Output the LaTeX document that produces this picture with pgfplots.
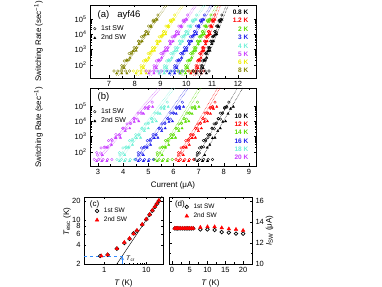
\documentclass[border=0pt]{standalone}
\usepackage{fontspec}
\setmainfont{Liberation Sans}
\setsansfont{Liberation Sans}
\usepackage{pgfplots}
\usepackage{pgfplotstable}
\pgfplotsset{compat=1.18}

\definecolor{cgreen}{RGB}{90,220,0}
\definecolor{cblue}{RGB}{30,30,235}
\definecolor{ccyan}{RGB}{110,240,215}
\definecolor{cpurple}{RGB}{200,60,255}
\definecolor{cyellow}{RGB}{238,238,0}
\definecolor{colive}{RGB}{128,128,0}
\definecolor{cred}{RGB}{255,0,0}
\definecolor{dblue}{RGB}{50,140,255}

\pgfplotsset{
  every axis/.append style={
    scale only axis,
    tick label style={font=\fontsize{7.5}{8}\selectfont},
    label style={font=\fontsize{8}{9}\selectfont},
    legend style={draw=none, fill=none, font=\fontsize{7}{8}\selectfont, row sep=-1pt, inner sep=0pt,
      /tikz/every odd column/.append style={column sep=3pt}},
    legend cell align=left,
    /pgf/number format/assume math mode=true,
    major tick length=2.5pt, minor tick length=1.5pt,
    tick style={line width=0.4pt, black},
    axis line style={line width=0.5pt},
  },
  ca/.style={only marks, mark=o, mark size=1.3pt, mark options={line width=0.35pt}},
  ta/.style={only marks, mark=triangle*, mark size=1.3pt},
  da/.style={ca, forget plot},
  db/.style={ta, forget plot},
  fl/.style={densely dotted, line width=0.5pt, forget plot},
  cc/.style={only marks, mark=o, mark size=1.8pt, mark options={line width=0.7pt}, black},
  tc/.style={only marks, mark=triangle*, mark size=2.1pt, cred},
}

% panel (a): 1st SW
\pgfplotstableread{
R      T8    T6    T5     T4     T3     T2     T12    T08
89     7.50  8.25  8.75   9.15   9.55   9.97   10.38  10.58
85     7.59  8.34  8.84   9.23   9.63   10.04  10.43  10.63
200    7.69  8.42  8.92   9.32   9.70   10.10  10.48  10.69
214    7.78  8.51  9.01   9.40   9.78   10.17  10.52  10.74
646    7.87  8.60  9.10   9.48   9.86   10.23  10.57  10.79
851    7.97  8.68  9.18   9.57   9.93   10.30  10.62  10.85
1290   8.06  8.77  9.27   9.65   10.01  10.36  10.67  10.90
3470   8.15  8.86  9.36   9.73   10.09  10.43  10.72  10.95
3240   8.25  8.94  9.44   9.82   10.16  10.49  10.76  11.01
7760   8.34  9.03  9.53   9.90   10.24  10.56  10.81  11.06
14800  8.43  9.12  9.62   9.98   10.32  10.62  10.86  11.11
13800  8.53  9.20  9.70   10.07  10.39  10.69  10.91  11.17
33100  8.62  9.29  9.79   10.15  10.47  10.75  10.96  11.22
70800  8.71  9.38  9.88   10.23  10.55  10.82  11.00  11.27
83200  8.81  9.46  9.96   10.32  10.62  10.88  11.05  11.33
178000 8.90  9.55  10.05  10.40  10.70  10.95  11.10  11.38
62     7.51  8.26  8.76   9.15   9.55   9.98   10.38  10.58
182    7.60  8.34  8.84   9.24   9.63   10.04  10.43  10.63
209    7.70  8.43  8.93   9.32   9.70   10.11  10.47  10.69
550    7.79  8.52  9.02   9.40   9.78   10.17  10.52  10.74
525    7.88  8.60  9.10   9.49   9.86   10.24  10.57  10.79
1350   7.98  8.69  9.19   9.57   9.93   10.30  10.62  10.85
1320   8.07  8.78  9.28   9.65   10.01  10.37  10.67  10.90
3550   8.16  8.86  9.36   9.74   10.09  10.43  10.71  10.95
6760   8.26  8.95  9.45   9.82   10.16  10.50  10.76  11.01
7080   8.35  9.04  9.54   9.90   10.24  10.56  10.81  11.06
15100  8.44  9.12  9.62   9.99   10.32  10.63  10.86  11.11
33900  8.54  9.21  9.71   10.07  10.39  10.69  10.91  11.17
35500  8.63  9.30  9.80   10.15  10.47  10.76  10.95  11.22
81300  8.72  9.38  9.88   10.24  10.55  10.82  11.00  11.27
93300  8.82  9.47  9.97   10.32  10.62  10.89  11.05  11.33
40     7.20  7.95  8.45   8.85   9.25   9.67   10.08  10.28
40     7.35  8.10  8.60   9.00   9.40   9.82   10.23  10.43
40     7.50  8.25  8.75   9.15   9.55   9.97   10.38  10.58
40     7.65  8.40  8.90   9.30   9.70   10.12  10.53  10.73
40     7.80  8.55  9.05   9.45   9.85   10.27  10.68  10.88
}\circA
% panel (a): 2nd SW
\pgfplotstableread{
R      T8    T6    T5     T4     T3     T2     T12    T08
63     7.59  8.34  8.84   9.24   9.63   10.05  10.45  10.65
191    7.71  8.45  8.95   9.34   9.73   10.13  10.51  10.72
288    7.82  8.55  9.05   9.44   9.82   10.21  10.57  10.79
794    7.94  8.66  9.16   9.55   9.92   10.29  10.63  10.85
851    8.06  8.77  9.27   9.65   10.02  10.37  10.69  10.92
2290   8.17  8.88  9.38   9.76   10.11  10.46  10.75  10.99
3470   8.29  8.99  9.49   9.86   10.21  10.54  10.81  11.05
9330   8.40  9.09  9.59   9.96   10.30  10.62  10.87  11.12
10000  8.52  9.20  9.70   10.07  10.40  10.70  10.93  11.18
30900  8.64  9.31  9.81   10.17  10.49  10.78  10.99  11.25
66100  8.75  9.42  9.92   10.27  10.59  10.86  11.05  11.32
89100  8.87  9.52  10.02  10.38  10.68  10.94  11.11  11.38
28     7.30  8.05  8.55   8.95   9.35   9.77   10.18  10.38
28     7.50  8.25  8.75   9.15   9.55   9.97   10.38  10.58
28     7.70  8.45  8.95   9.35   9.75   10.17  10.58  10.78
}\triA
% panel (b): 1st SW
\pgfplotstableread{
R      T20   T18   T16   T14   T12   T10
89     2.95  3.85  4.60  5.35  6.20  6.95
85     3.10  3.98  4.72  5.46  6.30  7.03
200    3.24  4.10  4.83  5.56  6.39  7.12
214    3.39  4.23  4.95  5.67  6.49  7.20
646    3.54  4.36  5.07  5.78  6.59  7.28
851    3.68  4.48  5.18  5.88  6.68  7.37
1290   3.83  4.61  5.30  5.99  6.78  7.45
3470   3.98  4.74  5.42  6.10  6.88  7.53
3240   4.12  4.86  5.53  6.20  6.97  7.62
7760   4.27  4.99  5.65  6.31  7.07  7.70
14800  4.42  5.12  5.77  6.42  7.17  7.78
13800  4.56  5.24  5.88  6.52  7.26  7.87
33100  4.71  5.37  6.00  6.63  7.36  7.95
70800  4.86  5.50  6.12  6.74  7.46  8.03
83200  5.00  5.62  6.23  6.84  7.55  8.12
178000 5.15  5.75  6.35  6.95  7.65  8.20
62     2.98  3.87  4.61  5.36  6.20  6.94
182    3.12  3.99  4.73  5.46  6.30  7.03
209    3.27  4.12  4.84  5.57  6.39  7.11
550    3.42  4.25  4.96  5.68  6.49  7.19
525    3.56  4.37  5.08  5.78  6.59  7.28
1350   3.71  4.50  5.19  5.89  6.68  7.36
1320   3.86  4.63  5.31  6.00  6.78  7.44
3550   4.00  4.75  5.43  6.10  6.88  7.53
6760   4.15  4.88  5.54  6.21  6.97  7.61
7080   4.30  5.01  5.66  6.32  7.07  7.69
15100  4.44  5.13  5.78  6.42  7.17  7.78
33900  4.59  5.26  5.89  6.53  7.26  7.86
35500  4.74  5.39  6.01  6.64  7.36  7.94
81300  4.88  5.51  6.13  6.74  7.46  8.03
93300  5.03  5.64  6.24  6.85  7.55  8.11
32     2.85  3.75  4.50  5.25  6.10  6.85
32     3.03  3.93  4.68  5.43  6.28  7.03
32     3.20  4.10  4.85  5.60  6.45  7.20
32     3.38  4.28  5.03  5.78  6.63  7.38
32     3.55  4.45  5.20  5.95  6.80  7.55
}\circB
% panel (b): 2nd SW
\pgfplotstableread{
R      T20   T18   T16   T14   T12   T10
63     3.17  4.06  4.80  5.55  6.39  7.24
191    3.35  4.21  4.95  5.68  6.51  7.34
288    3.53  4.37  5.09  5.81  6.63  7.44
794    3.71  4.53  5.24  5.95  6.75  7.55
851    3.89  4.69  5.38  6.08  6.87  7.65
2290   4.08  4.84  5.53  6.21  6.99  7.76
3470   4.26  5.00  5.67  6.34  7.11  7.86
9330   4.44  5.16  5.82  6.48  7.23  7.96
10000  4.62  5.32  5.96  6.61  7.35  8.07
30900  4.81  5.47  6.11  6.74  7.47  8.17
66100  4.99  5.63  6.25  6.87  7.59  8.27
89100  5.17  5.79  6.40  7.01  7.72  8.38
25     2.95  3.85  4.60  5.35  6.20  6.95
25     3.15  4.05  4.80  5.55  6.40  7.15
25     3.35  4.25  5.00  5.75  6.60  7.35
}\triB

\begin{document}
\begin{tikzpicture}[font=\fontsize{7}{8}\selectfont]
\useasboundingbox (0,0) rectangle (382pt,286pt);

% ---------------- (a)
\begin{axis}[
  at={(90pt,208pt)}, anchor=south west, width=166pt, height=73pt,
  xmin=6.27, xmax=12.7, ymode=log, ymin=14, ymax=8e5,
  xtick={7,8,9,10,11,12}, minor x tick num=1,
  ytick={1e2,1e3,1e4,1e5},
  yticklabels={10\textsuperscript{2},10\textsuperscript{3},10\textsuperscript{4},10\textsuperscript{5}},
  ylabel={Switching Rate (sec\textsuperscript{−1})},
  ylabel style={at={(axis description cs:-0.31,0.5)}, anchor=center},
  legend style={at={(axis description cs:0.02,0.75)}, anchor=north west},
]
\addlegendimage{ca, black}\addlegendentry{1st SW}
\addlegendimage{ta, black}\addlegendentry{2nd SW}
\addplot[fl, colive] coordinates {(7.29,20)(9.19,7.9e5)};
\addplot[fl, colive] coordinates {(7.37,20)(9.27,7.9e5)};
\addplot[fl, cyellow] coordinates {(8.06,20)(9.82,7.9e5)};
\addplot[fl, cyellow] coordinates {(8.14,20)(9.90,7.9e5)};
\addplot[fl, cpurple] coordinates {(8.56,20)(10.32,7.9e5)};
\addplot[fl, cpurple] coordinates {(8.64,20)(10.40,7.9e5)};
\addplot[fl, ccyan] coordinates {(8.97,20)(10.66,7.9e5)};
\addplot[fl, ccyan] coordinates {(9.05,20)(10.74,7.9e5)};
\addplot[fl, cblue] coordinates {(9.38,20)(10.94,7.9e5)};
\addplot[fl, cblue] coordinates {(9.46,20)(11.02,7.9e5)};
\addplot[fl, cgreen] coordinates {(9.83,20)(11.15,7.9e5)};
\addplot[fl, cgreen] coordinates {(9.91,20)(11.23,7.9e5)};
\addplot[fl, cred] coordinates {(10.27,20)(11.25,7.9e5)};
\addplot[fl, cred] coordinates {(10.35,20)(11.33,7.9e5)};
\addplot[fl, black] coordinates {(10.46,20)(11.55,7.9e5)};
\addplot[fl, black] coordinates {(10.54,20)(11.63,7.9e5)};

\addplot[da, colive] table[x=T8, y=R] {\circA};
\addplot[db, colive] table[x=T8, y=R] {\triA};
\addplot[da, cyellow] table[x=T6, y=R] {\circA};
\addplot[db, cyellow] table[x=T6, y=R] {\triA};
\addplot[da, cpurple] table[x=T5, y=R] {\circA};
\addplot[db, cpurple] table[x=T5, y=R] {\triA};
\addplot[da, ccyan] table[x=T4, y=R] {\circA};
\addplot[db, ccyan] table[x=T4, y=R] {\triA};
\addplot[da, cblue] table[x=T3, y=R] {\circA};
\addplot[db, cblue] table[x=T3, y=R] {\triA};
\addplot[da, cgreen] table[x=T2, y=R] {\circA};
\addplot[db, cgreen] table[x=T2, y=R] {\triA};
\addplot[da, cred] table[x=T12, y=R] {\circA};
\addplot[db, cred] table[x=T12, y=R] {\triA};
\addplot[da, black] table[x=T08, y=R] {\circA};
\addplot[db, black] table[x=T08, y=R] {\triA};

\node[anchor=west, font=\fontsize{9.5}{10}\selectfont] at (axis description cs:0.025,0.865) {(a)\hspace{8pt}ayf46};
\begin{scope}[every node/.style={anchor=east, font=\bfseries\fontsize{6.5}{7}\selectfont}]
\node[text=black]   at (axis description cs:0.975,0.895) {0.8 K};
\node[text=cred]    at (axis description cs:0.975,0.785) {1.2 K};
\node[text=cgreen]  at (axis description cs:0.975,0.668) {2 K};
\node[text=cblue]   at (axis description cs:0.975,0.552) {3 K};
\node[text=ccyan]   at (axis description cs:0.975,0.438) {4 K};
\node[text=cpurple] at (axis description cs:0.975,0.329) {5 K};
\node[text=cyellow] at (axis description cs:0.975,0.215) {6 K};
\node[text=colive]  at (axis description cs:0.975,0.100) {8 K};
\end{scope}
\end{axis}

% ---------------- (b)
\begin{axis}[
  at={(90pt,120pt)}, anchor=south west, width=166pt, height=78pt,
  xmin=2.68, xmax=9.28, ymode=log, ymin=12, ymax=1.5e6,
  xtick={3,4,5,6,7,8,9}, minor x tick num=1,
  ytick={1e2,1e3,1e4,1e5},
  yticklabels={10\textsuperscript{2},10\textsuperscript{3},10\textsuperscript{4},10\textsuperscript{5}},
  xlabel={Current (μA)},
  ylabel={Switching Rate (sec\textsuperscript{−1})},
  ylabel style={at={(axis description cs:-0.31,0.5)}, anchor=center},
  legend style={at={(axis description cs:0.02,0.765)}, anchor=north west},
]
\addlegendimage{ca, black}\addlegendentry{1st SW}
\addlegendimage{ta, black}\addlegendentry{2nd SW}
\addplot[fl, cpurple] coordinates {(2.95,32)(5.40,1.5e6)};
\addplot[fl, cpurple] coordinates {(3.05,32)(5.50,1.5e6)};
\addplot[fl, ccyan] coordinates {(3.80,32)(5.95,1.5e6)};
\addplot[fl, ccyan] coordinates {(3.90,32)(6.05,1.5e6)};
\addplot[fl, cblue] coordinates {(4.50,32)(6.50,1.5e6)};
\addplot[fl, cblue] coordinates {(4.60,32)(6.60,1.5e6)};
\addplot[fl, cgreen] coordinates {(5.30,32)(7.00,1.5e6)};
\addplot[fl, cgreen] coordinates {(5.40,32)(7.10,1.5e6)};
\addplot[fl, cred] coordinates {(6.10,32)(7.75,1.5e6)};
\addplot[fl, cred] coordinates {(6.20,32)(7.85,1.5e6)};
\addplot[fl, black] coordinates {(6.85,32)(8.55,1.5e6)};
\addplot[fl, black] coordinates {(7.10,32)(8.75,1.5e6)};

\addplot[da, cpurple] table[x=T20, y=R] {\circB};
\addplot[db, cpurple] table[x=T20, y=R] {\triB};
\addplot[da, ccyan] table[x=T18, y=R] {\circB};
\addplot[db, ccyan] table[x=T18, y=R] {\triB};
\addplot[da, cblue] table[x=T16, y=R] {\circB};
\addplot[db, cblue] table[x=T16, y=R] {\triB};
\addplot[da, cgreen] table[x=T14, y=R] {\circB};
\addplot[db, cgreen] table[x=T14, y=R] {\triB};
\addplot[da, cred] table[x=T12, y=R] {\circB};
\addplot[db, cred] table[x=T12, y=R] {\triB};
\addplot[da, black] table[x=T10, y=R] {\circB};
\addplot[db, black] table[x=T10, y=R] {\triB};

\node[anchor=west, font=\fontsize{9.5}{10}\selectfont] at (axis description cs:0.025,0.885) {(b)};
\begin{scope}[every node/.style={anchor=east, font=\bfseries\fontsize{6.5}{7}\selectfont}]
\node[text=black]   at (axis description cs:0.975,0.641) {10 K};
\node[text=cred]    at (axis description cs:0.975,0.535) {12 K};
\node[text=cgreen]  at (axis description cs:0.975,0.427) {14 K};
\node[text=cblue]   at (axis description cs:0.975,0.321) {16 K};
\node[text=ccyan]   at (axis description cs:0.975,0.214) {18 K};
\node[text=cpurple] at (axis description cs:0.975,0.106) {20 K};
\end{scope}
\end{axis}

% ---------------- (c)
\begin{axis}[
  at={(84pt,22pt)}, anchor=south west, width=79pt, height=67pt,
  xmode=log, ymode=log, xmin=0.33, xmax=25, ymin=2, ymax=23,
  xtick={1,10}, xticklabels={1,10},
  ytick={2,4,6,8,10,20}, yticklabels={2,4,6,8,10,20},
  xlabel={\textit{T} (K)},
  ylabel={\textit{T}\textsubscript{esc} (K)},
  ylabel style={at={(axis description cs:-0.215,0.63)}, anchor=center},
  legend style={at={(axis description cs:0.14,0.87)}, anchor=north west, font=\fontsize{6.5}{7.5}\selectfont},
]
\addplot[black, line width=0.4pt, forget plot] coordinates {(2,2)(25,25)};
\addplot[dblue, dashed, line width=0.5pt, forget plot] coordinates {(0.33,2.68)(2.8,2.68)};
\addplot[dblue, -stealth, line width=0.5pt, forget plot] coordinates {(2.7,2)(2.7,2.62)};
\addplot[cc] coordinates {(0.8,2.68)(1.2,2.8)(2,3.5)(3,4.3)(4,5.0)(5,6.1)(6,6.7)(8,8.4)(10,10.2)(12,12.1)(14,14)(16,16)(18,18)(20,20)};
\addlegendentry{1st SW}
\addplot[tc] coordinates {(0.85,2.68)(1.2,2.8)(2,3.5)(3,4.4)(4,5.1)(5,6.0)(6,6.8)(8,8.5)(10,10.3)(12,12.2)(14,14.2)(16,16.2)(18,18.2)(20,20.3)};
\addlegendentry{2nd SW}
\node[anchor=west, font=\fontsize{6.5}{7}\selectfont] at (axis cs:2.75,2.45) {\textit{T}\textsubscript{cr}};
\node[anchor=north west, font=\fontsize{8}{9}\selectfont] at (axis description cs:0.03,1.0) {(c)};
\end{axis}

% ---------------- (d)
\begin{axis}[
  at={(169pt,22pt)}, anchor=south west, width=83pt, height=67pt,
  xmin=-0.8, xmax=22.5, ymin=10, ymax=16.4,
  xtick={0,5,10,15,20}, minor x tick num=1,
  ytick={10,12,14,16}, minor y tick num=1,
  yticklabel pos=right,
  xlabel={\textit{T} (K)},
  ylabel={\textit{I}\textsubscript{SW} (μA)},
  ylabel style={at={(axis description cs:1.21,0.5)}, anchor=center},
  legend style={at={(axis description cs:0.19,0.93)}, anchor=north west, font=\fontsize{6.5}{7.5}\selectfont},
]
\addplot[cc] coordinates {(0.8,13.4)(1.2,13.4)(1.6,13.4)(2,13.4)(2.5,13.4)(3,13.4)(3.5,13.4)(4,13.4)(4.5,13.4)(5,13.4)(5.5,13.4)(6,13.4)(8,13.3)(10,13.3)(12,13.25)(14,13.05)(16,13.0)(18,12.9)(20,12.9)};
\addlegendentry{1st SW}
\addplot[tc] coordinates {(0.8,13.4)(1.2,13.4)(1.6,13.4)(2,13.4)(2.5,13.4)(3,13.4)(3.5,13.4)(4,13.4)(4.5,13.4)(5,13.4)(5.5,13.4)(6,13.4)(8,13.5)(10,13.55)(12,13.55)(14,13.45)(16,13.35)(18,13.3)(20,13.2)};
\addlegendentry{2nd SW}
\node[anchor=north west, font=\fontsize{8}{9}\selectfont] at (axis description cs:0.03,1.0) {(d)};
\end{axis}
\end{tikzpicture}
\end{document}
